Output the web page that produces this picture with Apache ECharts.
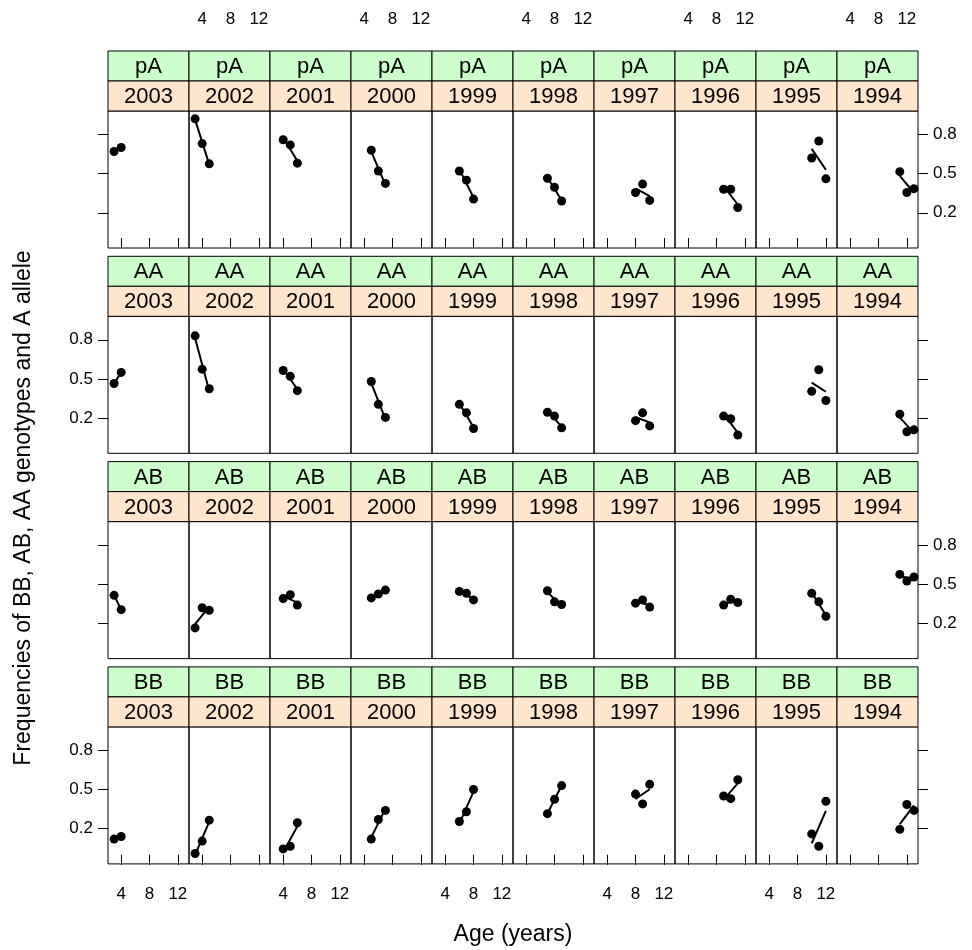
<!DOCTYPE html>
<html>
<head>
<meta charset="utf-8">
<script src="https://cdn.jsdelivr.net/npm/echarts@6/dist/echarts.min.js"></script>
<style>
  html, body { margin: 0; padding: 0; background: #fff; }
  #chart { width: 972px; height: 950px; }
</style>
</head>
<body>
<div id="chart"></div>
<script>
// panel layout: rows = genotype / allele, columns = cohort year
const genotypes = ['pA', 'AA', 'AB', 'BB'];
const cohorts = ['2003', '2002', '2001', '2000', '1999', '1998', '1997', '1996', '1995', '1994'];
const ages = [[3, 4], [3, 4, 5], [4, 5, 6], [5, 6, 7], [6, 7, 8], [7, 8, 9], [8, 9, 10], [9, 10, 11], [10, 11, 12], [11, 12, 13]];

const pA = [[0.67, 0.70], [0.92, 0.73, 0.575], [0.76, 0.72, 0.58], [0.68, 0.52, 0.425], [0.52, 0.45, 0.305],
  [0.465, 0.395, 0.29], [0.355, 0.42, 0.295], [0.38, 0.38, 0.24], [0.62, 0.75, 0.46], [0.515, 0.355, 0.385]];
const AA = [[0.465, 0.55], [0.83, 0.575, 0.425], [0.565, 0.52, 0.41], [0.48, 0.305, 0.205], [0.305, 0.24, 0.12],
  [0.245, 0.215, 0.125], [0.18, 0.24, 0.14], [0.215, 0.195, 0.07], [0.405, 0.57, 0.335], [0.23, 0.095, 0.11]];
const AB = [[0.415, 0.305], [0.165, 0.32, 0.30], [0.39, 0.42, 0.34], [0.395, 0.425, 0.455], [0.445, 0.43, 0.38],
  [0.45, 0.365, 0.345], [0.355, 0.38, 0.325], [0.34, 0.385, 0.36], [0.43, 0.365, 0.255], [0.575, 0.525, 0.555]];
const BB = [[0.12, 0.14], [0.01, 0.105, 0.265], [0.045, 0.065, 0.245], [0.12, 0.27, 0.34], [0.255, 0.33, 0.50],
  [0.315, 0.425, 0.53], [0.465, 0.39, 0.54], [0.45, 0.43, 0.575], [0.16, 0.065, 0.41], [0.195, 0.385, 0.34]];

const xTicks = [4, 8, 12];
const yTicks = [0.2, 0.5, 0.8];
const xMin = 2.14, xMax = 13.57;
const yMin = -0.07, yMax = 0.98;

const FONT = '"Liberation Sans", Arial, sans-serif';
const left0 = 108, panelW = 81;
const top0 = 51, stripH = 30, plotH = 137, rowPitch = 205.3;

const values = [pA, AA, AB, BB];

// least squares line through a panel's points (lattice type "r")
function fitLine(xs, ys) {
  const n = xs.length;
  const mx = xs.reduce((a, b) => a + b, 0) / n;
  const my = ys.reduce((a, b) => a + b, 0) / n;
  let sxy = 0, sxx = 0;
  for (let i = 0; i < n; i++) {
    sxy += (xs[i] - mx) * (ys[i] - my);
    sxx += (xs[i] - mx) * (xs[i] - mx);
  }
  const b = sxy / sxx;
  const a = my - b * mx;
  const x0 = xs[0], x1 = xs[n - 1];
  return [[x0, a + b * x0], [x1, a + b * x1]];
}

const grid = [], xAxis = [], yAxis = [], series = [], graphic = [];
const tickStyle = { color: '#000', width: 1 };
const labelStyle = { color: '#000', fontFamily: FONT, fontSize: 17 };

genotypes.forEach((g, r) => {
  const stripTop = top0 + r * rowPitch;
  const plotTop = stripTop + 2 * stripH;
  cohorts.forEach((c, k) => {
    const left = left0 + k * panelW;
    const gi = grid.length;
    grid.push({ left: left, top: plotTop, width: panelW, height: plotH, show: true,
      borderColor: '#000', borderWidth: 1, backgroundColor: 'transparent' });
    xAxis.push({
      gridIndex: gi, type: 'value', min: xMin, max: xMax, position: 'bottom',
      axisLine: { show: false }, splitLine: { show: false },
      axisTick: { show: r === 3, customValues: xTicks, length: 10, inside: false, lineStyle: tickStyle },
      axisLabel: { show: r === 3 && k % 2 === 0, customValues: xTicks, margin: 22, ...labelStyle }
    });
    const side = k === 9 ? 'right' : 'left';
    const yLab = (k === 0 && r % 2 === 1) || (k === 9 && r % 2 === 0);
    yAxis.push({
      gridIndex: gi, type: 'value', min: yMin, max: yMax, position: side,
      axisLine: { show: false }, splitLine: { show: false },
      axisTick: { show: k === 0 || k === 9, customValues: yTicks, length: 10, lineStyle: tickStyle },
      axisLabel: { show: yLab, customValues: yTicks, margin: 15, ...labelStyle }
    });
    const xs = ages[k], ys = values[r][k];
    series.push({
      type: 'scatter', xAxisIndex: gi, yAxisIndex: gi, symbol: 'circle', symbolSize: 9,
      itemStyle: { color: '#000', opacity: 1 }, silent: true,
      data: xs.map((a, i) => [a, ys[i]])
    });
    series.push({
      type: 'line', xAxisIndex: gi, yAxisIndex: gi, showSymbol: false, silent: true,
      lineStyle: { color: '#000', width: 2 },
      data: fitLine(xs, ys)
    });
    // strips: genotype on green, cohort on peach
    graphic.push({ type: 'rect', shape: { x: left, y: stripTop, width: panelW, height: stripH },
      style: { fill: '#ccffcc', stroke: '#000', lineWidth: 1 } });
    graphic.push({ type: 'rect', shape: { x: left, y: stripTop + stripH, width: panelW, height: stripH },
      style: { fill: '#ffe5cc', stroke: '#000', lineWidth: 1 } });
    graphic.push({ type: 'text', x: left + panelW / 2, y: stripTop + stripH / 2 + 1,
      style: { text: g, font: '22px ' + FONT, fill: '#000', textAlign: 'center', textVerticalAlign: 'middle' } });
    graphic.push({ type: 'text', x: left + panelW / 2, y: stripTop + stripH * 1.5 + 1,
      style: { text: c, font: '22px ' + FONT, fill: '#000', textAlign: 'center', textVerticalAlign: 'middle' } });
  });
});

// top axis sits above the first row's strips
cohorts.forEach((c, k) => {
  const gi = grid.length;
  grid.push({ left: left0 + k * panelW, top: top0, width: panelW, height: 2 * stripH + plotH, show: false });
  xAxis.push({
    gridIndex: gi, type: 'value', min: xMin, max: xMax, position: 'top',
    axisLine: { show: false }, splitLine: { show: false },
    axisTick: { show: true, customValues: xTicks, length: 10, lineStyle: tickStyle },
    axisLabel: { show: k % 2 === 1, customValues: xTicks, margin: 23, ...labelStyle }
  });
  yAxis.push({ gridIndex: gi, type: 'value', min: 0, max: 1, show: false });
});

graphic.push({ type: 'text', x: 513, y: 935,
  style: { text: 'Age (years)', font: '23px ' + FONT, fill: '#000', textAlign: 'center', textVerticalAlign: 'middle' } });
graphic.push({ type: 'text', x: 24, y: 508, rotation: Math.PI / 2,
  style: { text: 'Frequencies of BB, AB, AA genotypes and A allele', font: '23px ' + FONT, fill: '#000',
    textAlign: 'center', textVerticalAlign: 'middle' } });

const chart = echarts.init(document.getElementById('chart'), null, { renderer: 'canvas' });
chart.setOption({
  animation: false,
  backgroundColor: '#fff',
  grid: grid,
  xAxis: xAxis,
  yAxis: yAxis,
  series: series,
  graphic: graphic
});
</script>
</body>
</html>
